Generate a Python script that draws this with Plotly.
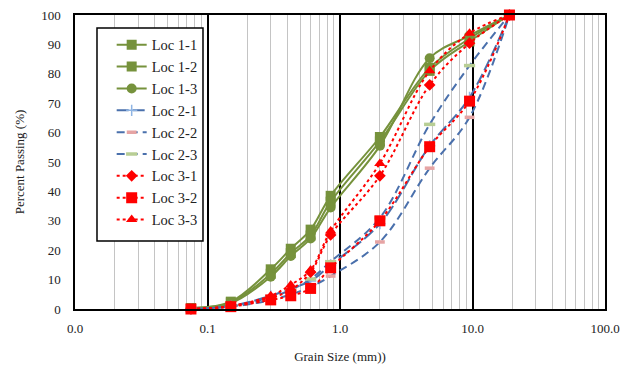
import plotly.graph_objects as go

sieve_mm = [0.075, 0.15, 0.3, 0.425, 0.6, 0.85, 2.0, 4.75, 9.5, 19.0]

loc_1_1 = [0.3, 2.5, 13.5, 20.5, 27.0, 38.5, 58.5, 82.0, 92.0, 100]
loc_1_2 = [0.3, 2.2, 12.0, 19.0, 25.0, 36.5, 57.0, 81.0, 91.0, 100]
loc_1_3 = [0.3, 2.0, 11.0, 18.0, 24.0, 34.5, 55.5, 85.3, 93.0, 100]
loc_2_1 = [0.0, 1.0, 4.5, 7.0, 9.5, 15.0, 29.0, 55.5, 72.0, 100]
loc_2_2 = [0.0, 0.8, 3.0, 5.0, 7.5, 11.2, 22.8, 47.9, 65.2, 100]
loc_2_3 = [0.0, 1.0, 4.0, 6.5, 10.2, 16.1, 31.0, 62.8, 82.8, 100]
loc_3_1 = [0.0, 1.0, 3.8, 6.5, 12.5, 25.2, 45.3, 76.2, 90.4, 100]
loc_3_2 = [0.0, 0.8, 3.1, 4.5, 7.0, 14.0, 30.0, 55.2, 70.7, 100]
loc_3_3 = [0.0, 1.0, 4.5, 8.2, 13.3, 26.5, 49.5, 81.0, 93.8, 100]

x_tick_vals = [0.01, 0.1, 1, 10, 100]
x_tick_text = ["0.0", "0.1", "1.0", "10.0", "100.0"]
minor_vals = [m * d for d in (0.01, 0.1, 1, 10) for m in range(2, 10)]

GREEN = "#76923C"
BLUE = "#4A70AC"
RED = "#FF0000"
FONT = "'Liberation Serif', 'DejaVu Serif', serif"

series = [
    ("Loc 1-1", loc_1_1, dict(color=GREEN, width=2), dict(symbol="square", size=10, color=GREEN)),
    ("Loc 1-2", loc_1_2, dict(color=GREEN, width=2), dict(symbol="square", size=10, color=GREEN)),
    ("Loc 1-3", loc_1_3, dict(color=GREEN, width=2), dict(symbol="circle", size=10, color=GREEN)),
    ("Loc 2-1", loc_2_1, dict(color=BLUE, width=2, dash="12px,4px"),
     dict(symbol="cross-thin", size=8, color="#8EB4E3", line=dict(color="#8EB4E3", width=1.5))),
    ("Loc 2-2", loc_2_2, dict(color=BLUE, width=2, dash="8px,5px"),
     dict(symbol="line-ew", size=7, color="#E6A4A4", line=dict(color="#E6A4A4", width=3.5))),
    ("Loc 2-3", loc_2_3, dict(color=BLUE, width=2, dash="8px,5px"),
     dict(symbol="line-ew", size=8, color="#B8CE94", line=dict(color="#B8CE94", width=3.5))),
    ("Loc 3-1", loc_3_1, dict(color=RED, width=2, dash="dot"), dict(symbol="diamond", size=9, color=RED)),
    ("Loc 3-2", loc_3_2, dict(color=RED, width=2, dash="dot"), dict(symbol="square", size=11, color=RED)),
    ("Loc 3-3", loc_3_3, dict(color=RED, width=2, dash="dot"), dict(symbol="triangle-up", size=10, color=RED)),
]

fig = go.Figure()
for name, vals, line, marker in series:
    fig.add_trace(go.Scatter(
        x=sieve_mm, y=vals, name=name, mode="lines+markers",
        line=dict(shape="spline", smoothing=1, **line),
        marker=marker, cliponaxis=False,
    ))

# legend frame (drawn as a box so the legend content can sit inset as in the reference)
fig.add_shape(
    type="rect", xref="paper", yref="paper",
    x0=0.0415, x1=0.2415, y0=0.2313, y1=0.9558,
    line=dict(color="black", width=1.5), fillcolor="white", layer="above",
)

fig.update_layout(
    width=630, height=368,
    margin=dict(l=75, r=25, t=15, b=59, autoexpand=False),
    paper_bgcolor="white", plot_bgcolor="white",
    font=dict(family=FONT, size=13, color="#222222"),
    showlegend=True,
    legend=dict(
        x=0.0692, y=0.953, xanchor="left", yanchor="top",
        bgcolor="rgba(0,0,0,0)", borderwidth=0,
        font=dict(family=FONT, size=14.5, color="#222222"),
        tracegroupgap=0,
    ),
    xaxis=dict(
        type="log", range=[-2, 2], automargin=False,
        tickmode="array", tickvals=x_tick_vals, ticktext=x_tick_text,
        showgrid=True, gridcolor="black", gridwidth=1.5,
        showline=True, mirror=True, linecolor="black", linewidth=1.5,
        ticks="", ticklabelstandoff=7,
        minor=dict(tickmode="array", tickvals=minor_vals, showgrid=True,
                   gridcolor="#C4C4C4", gridwidth=1, ticks=""),
        title=dict(text="Grain Size (mm))", font=dict(family=FONT, size=13), standoff=17),
        zeroline=False,
    ),
    yaxis=dict(
        range=[0, 100], dtick=10, showgrid=False, automargin=False,
        showline=True, mirror=True, linecolor="black", linewidth=1.5,
        ticks="", ticklabelstandoff=10, zeroline=False,
        title=dict(text="Percent Passing (%)", font=dict(family=FONT, size=13), standoff=14),
    ),
)

fig.write_html(
    "out.html",
    config={"displayModeBar": False},
    post_script="document.body.style.margin='0';document.body.style.overflow='hidden';",
)
